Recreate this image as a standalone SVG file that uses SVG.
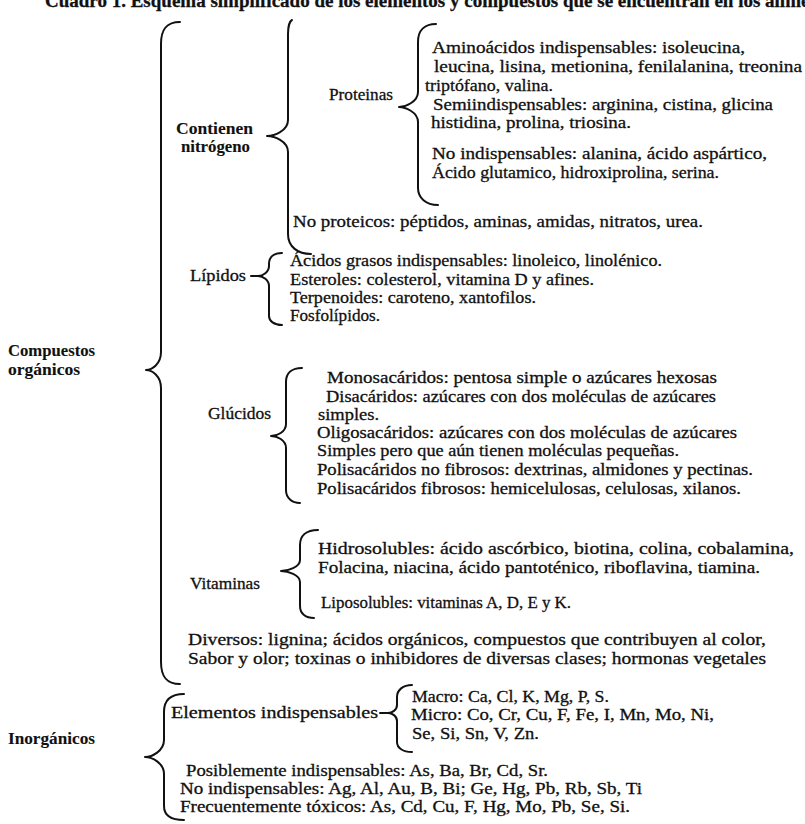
<svg xmlns="http://www.w3.org/2000/svg" width="805" height="824" viewBox="0 0 805 824">
<style>
text{font-family:"Liberation Serif","Times New Roman",serif;font-size:16.5px;fill:#111;stroke:#111;stroke-width:0.3}
.b{font-weight:bold;stroke-width:0.1}
.t{font-weight:bold;font-size:19px}
.br{fill:none;stroke:#111;stroke-width:2;stroke-linecap:round;stroke-linejoin:round}
</style>
<rect width="805" height="824" fill="#fff"/>
<text class="t" x="45" y="7">Cuadro 1. Esquema simplificado de los elementos y compuestos que se encuentran en los alimentos</text>
<g id="connectors">
<path class="br" d="M180,22 C166,22 161,30 161,44 L161,352 C161,364 152,370 146,370 C152,370 161,376 161,388 L161,662 C161,676 166,684 180,684"/>
<path class="br" d="M292,20 C290,21 288,26 288,34 L288,120 C288,131 274,136 267,136 C274,136 288,141 288,152 L288,234 C288,247 298,254 311,254"/>
<path class="br" d="M436,24 C425,24 418,30 418,42 L418,92 C418,102 405,107 399,107 C405,107 418,112 418,122 L418,188 C418,198 426,205 438,205"/>
<path class="br" d="M282,253 C274,253 269,257 269,264 L269,266 C269,272 263,276 258,276 C263,276 269,280 269,286 L269,316 C269,321 274,325 282,325"/>
<path class="br" d="M251,276 L258,276"/>
<path class="br" d="M302,368 C292,368 286,373 286,382 L286,424 C286,432 277,436 271,436 C277,436 286,440 286,448 L286,490 C286,498 292,503 300,503"/>
<path class="br" d="M318,530 C306,530 300,536 300,545 L300,560 C300,567 288,571 281,571 C288,571 300,575 300,582 L300,606 C300,614 306,618 314,618"/>
<path class="br" d="M412,685 C403,685 397,690 397,697 L397,705 C397,710 392,713 388,713 C392,713 397,716 397,721 L397,742 C397,748 403,752 412,752"/>
<path class="br" d="M380,713 L388,713"/>
<path class="br" d="M184,694 C170,694 164,700 164,712 L164,740 C164,751 152,757 145,757 C152,757 164,763 164,774 L164,806 C164,815 170,820 184,820"/>
</g>
<g id="organicos"><text class="b" x="8" y="356" textLength="87" lengthAdjust="spacingAndGlyphs">Compuestos</text><text class="b" x="8" y="375" textLength="72" lengthAdjust="spacingAndGlyphs">orgánicos</text></g>
<g id="nitrogeno"><text class="b" x="176" y="134" textLength="77" lengthAdjust="spacingAndGlyphs">Contienen</text><text class="b" x="181" y="152" textLength="69" lengthAdjust="spacingAndGlyphs">nitrógeno</text></g>
<g id="proteinas"><text x="329" y="100" textLength="64" lengthAdjust="spacingAndGlyphs">Proteinas</text></g>
<g id="aminoacidos">
<text x="432" y="53" textLength="313" lengthAdjust="spacingAndGlyphs">Aminoácidos indispensables: isoleucina,</text>
<text x="434" y="72" textLength="368" lengthAdjust="spacingAndGlyphs">leucina, lisina, metionina, fenilalanina, treonina</text>
<text x="425" y="91" textLength="128" lengthAdjust="spacingAndGlyphs">triptófano, valina.</text>
<text x="433" y="110" textLength="340" lengthAdjust="spacingAndGlyphs">Semiindispensables: arginina, cistina, glicina</text>
<text x="431" y="128" textLength="200" lengthAdjust="spacingAndGlyphs">histidina, prolina, triosina.</text>
<text x="432" y="159" textLength="335" lengthAdjust="spacingAndGlyphs">No indispensables: alanina, ácido aspártico,</text>
<text x="432" y="178" textLength="287" lengthAdjust="spacingAndGlyphs">Ácido glutamico, hidroxiprolina, serina.</text>
</g>
<g id="noproteicos"><text x="293" y="227" textLength="410" lengthAdjust="spacingAndGlyphs">No proteicos: péptidos, aminas, amidas, nitratos, urea.</text></g>
<g id="lipidos"><text x="190" y="281" textLength="56" lengthAdjust="spacingAndGlyphs">Lípidos</text></g>
<g id="lipidos-items">
<text x="290" y="266" textLength="372" lengthAdjust="spacingAndGlyphs">Ácidos grasos indispensables: linoleico, linolénico.</text>
<text x="290" y="285" textLength="304" lengthAdjust="spacingAndGlyphs">Esteroles: colesterol, vitamina D y afines.</text>
<text x="290" y="303" textLength="246" lengthAdjust="spacingAndGlyphs">Terpenoides: caroteno, xantofilos.</text>
<text x="290" y="321" textLength="90" lengthAdjust="spacingAndGlyphs">Fosfolípidos.</text>
</g>
<g id="glucidos"><text x="208" y="419" textLength="63" lengthAdjust="spacingAndGlyphs">Glúcidos</text></g>
<g id="glucidos-items">
<text x="327" y="383" textLength="390" lengthAdjust="spacingAndGlyphs">Monosacáridos: pentosa simple o azúcares hexosas</text>
<text x="326" y="402" textLength="390" lengthAdjust="spacingAndGlyphs">Disacáridos: azúcares con dos moléculas de azúcares</text>
<text x="318" y="420" textLength="61" lengthAdjust="spacingAndGlyphs">simples.</text>
<text x="317" y="438" textLength="420" lengthAdjust="spacingAndGlyphs">Oligosacáridos: azúcares con dos moléculas de azúcares</text>
<text x="317" y="456" textLength="362" lengthAdjust="spacingAndGlyphs">Simples pero que aún tienen moléculas pequeñas.</text>
<text x="317" y="475" textLength="436" lengthAdjust="spacingAndGlyphs">Polisacáridos no fibrosos: dextrinas, almidones y pectinas.</text>
<text x="317" y="494" textLength="424" lengthAdjust="spacingAndGlyphs">Polisacáridos fibrosos: hemicelulosas, celulosas, xilanos.</text>
</g>
<g id="vitaminas"><text x="190" y="589" textLength="70" lengthAdjust="spacingAndGlyphs">Vitaminas</text></g>
<g id="vitaminas-items">
<text x="318" y="554" textLength="476" lengthAdjust="spacingAndGlyphs">Hidrosolubles: ácido ascórbico, biotina, colina, cobalamina,</text>
<text x="318" y="573" textLength="442" lengthAdjust="spacingAndGlyphs">Folacina, niacina, ácido pantoténico, riboflavina, tiamina.</text>
<text x="321" y="608" textLength="250" lengthAdjust="spacingAndGlyphs">Liposolubles: vitaminas A, D, E y K.</text>
</g>
<g id="diversos">
<text x="188" y="645" textLength="578" lengthAdjust="spacingAndGlyphs">Diversos: lignina; ácidos orgánicos, compuestos que contribuyen al color,</text>
<text x="188" y="664" textLength="578" lengthAdjust="spacingAndGlyphs">Sabor y olor; toxinas o inhibidores de diversas clases; hormonas vegetales</text>
</g>
<g id="inorganicos"><text class="b" x="8" y="744" textLength="87" lengthAdjust="spacingAndGlyphs">Inorgánicos</text></g>
<g id="elementos"><text x="171" y="718" textLength="207" lengthAdjust="spacingAndGlyphs">Elementos indispensables</text></g>
<g id="elementos-items">
<text x="412" y="702" textLength="197" lengthAdjust="spacingAndGlyphs">Macro: Ca, Cl, K, Mg, P, S.</text>
<text x="411" y="720" textLength="303" lengthAdjust="spacingAndGlyphs">Micro: Co, Cr, Cu, F, Fe, I, Mn, Mo, Ni,</text>
<text x="412" y="739" textLength="127" lengthAdjust="spacingAndGlyphs">Se, Si, Sn, V, Zn.</text>
</g>
<g id="otros-inorganicos">
<text x="186" y="776" textLength="362" lengthAdjust="spacingAndGlyphs">Posiblemente indispensables: As, Ba, Br, Cd, Sr.</text>
<text x="180" y="794" textLength="462" lengthAdjust="spacingAndGlyphs">No indispensables: Ag, Al, Au, B, Bi; Ge, Hg, Pb, Rb, Sb, Ti</text>
<text x="180" y="812" textLength="450" lengthAdjust="spacingAndGlyphs">Frecuentemente tóxicos: As, Cd, Cu, F, Hg, Mo, Pb, Se, Si.</text>
</g>
</svg>
